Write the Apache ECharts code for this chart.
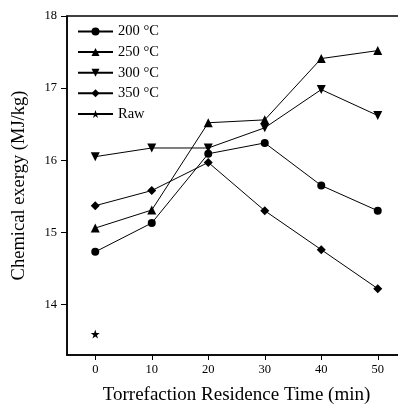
<!DOCTYPE html>
<html><head><meta charset="utf-8">
<script src="https://cdn.jsdelivr.net/npm/echarts@6/dist/echarts.min.js"></script>
<style>html,body{margin:0;padding:0;background:#fff;overflow:hidden}#c{width:398px;height:407px}</style>
</head><body><div id="c"></div>
<script>
const times = [0, 10, 20, 30, 40, 50];
const s200 = [14.73, 15.13, 16.09, 16.24, 15.65, 15.30];
const s250 = [15.06, 15.31, 16.52, 16.56, 17.41, 17.52];
const s300 = [16.05, 16.17, 16.17, 16.45, 16.98, 16.62];
const s350 = [15.37, 15.58, 15.97, 15.30, 14.76, 14.22];
const raw = [[0, 13.59]];
const xTicks = [0, 10, 20, 30, 40, 50];
const yTicks = [14, 15, 16, 17, 18];
const names = ['200 °C', '250 °C', '300 °C', '350 °C', 'Raw'];

const FONT = '"Liberation Serif", "Times New Roman", serif';
const invTri = 'path://M0,0 L10,0 L5,9 Z';
const tri = 'path://M5,0 L10,9 L0,9 Z';
const dia = 'path://M5,0 L10,5 L5,10 L0,5 Z';
const star = 'path://M5,0 L6.2,3.6 L10,3.6 L6.9,5.9 L8.1,9.5 L5,7.3 L1.9,9.5 L3.1,5.9 L0,3.6 L3.8,3.6 Z';

function pairs(arr){ return times.map((t,i)=>[t, arr[i]]); }
function mk(name, data, symbol, size){
  return {name, type:'line', data, symbol, symbolSize:size, showSymbol:true,
    lineStyle:{color:'#000', width:1}, itemStyle:{color:'#000'}, z:3, animation:false};
}

const chart = echarts.init(document.getElementById('c'));
chart.setOption({
  animation:false,
  grid:{left:67, top:16, width:339, height:339, show:true, borderColor:'#000', borderWidth:1.5,
    containLabel:false, outerBoundsMode:'none'},
  legend:{left:72, top:19, orient:'vertical', itemWidth:35, itemHeight:10, itemGap:5.6,
    textStyle:{fontFamily:FONT, fontSize:14.5, color:'#000', lineHeight:15}, data:names},
  xAxis:{type:'value', min:-5, max:55,
    name:'Torrefaction Residence Time (min)', nameLocation:'middle', nameGap:31,
    nameTextStyle:{fontFamily:FONT, fontSize:19, color:'#000'},
    axisLine:{show:true, onZero:false, lineStyle:{color:'#000', width:1.5}},
    axisTick:{show:true, length:5, customValues:xTicks, lineStyle:{color:'#000', width:1}},
    axisLabel:{customValues:xTicks, margin:8, fontFamily:FONT, fontSize:12.5, color:'#000'},
    splitLine:{show:false}},
  yAxis:{type:'value', min:13.3, max:18,
    name:'Chemical exergy (MJ/kg)', nameLocation:'middle', nameGap:38,
    nameTextStyle:{fontFamily:FONT, fontSize:18.5, color:'#000'},
    axisLine:{show:true, onZero:false, lineStyle:{color:'#000', width:1.5}},
    axisTick:{show:true, length:6, customValues:yTicks, lineStyle:{color:'#000', width:1}},
    axisLabel:{customValues:yTicks, margin:10, fontFamily:FONT, fontSize:12.5, color:'#000'},
    splitLine:{show:false}},
  series:[
    mk(names[0], pairs(s200), 'circle', 8),
    mk(names[1], pairs(s250), tri, 9),
    mk(names[2], pairs(s300), invTri, 9),
    mk(names[3], pairs(s350), dia, 9),
    mk(names[4], raw, star, 9)
  ]
});
</script></body></html>
